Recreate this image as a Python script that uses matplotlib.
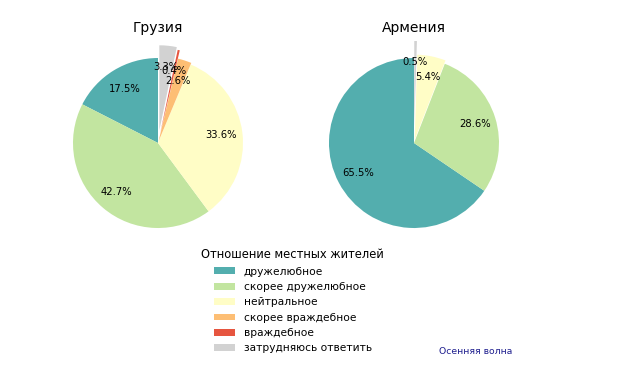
import matplotlib.pyplot as plt
from matplotlib.patches import Patch

categories = ['дружелюбное', 'скорее дружелюбное', 'нейтральное',
              'скорее враждебное', 'враждебное', 'затрудняюсь ответить']
georgia = [17.5, 42.7, 33.6, 2.6, 0.4, 3.3]
armenia = [65.5, 28.6, 5.4, 0.0, 0.0, 0.5]
colors = ['#53aeae', '#c2e5a0', '#fffdc6', '#fdbe74', '#e6553f', '#d2d2d2']

explode_ge = [0, 0, 0, 0.02, 0.12, 0.15]
explode_am = [0, 0, 0.04, 0, 0, 0.2]

W, H = 640, 366
fig = plt.figure(figsize=(6.4, 3.66), dpi=100)


def pct(v):
    return '' if v < 0.05 else '%1.1f%%' % v


def draw(cx, cy, r, values, explode, title):
    half = 1.25 * r
    ax = fig.add_axes([(cx - half) / W, (H - cy - half) / H, 2 * half / W, 2 * half / H])
    ax.pie(values, colors=colors, explode=explode, startangle=90,
           autopct=pct, pctdistance=0.75, textprops={'fontsize': 7.2})
    ax.set_xlim(-1.25, 1.25)
    ax.set_ylim(-1.25, 1.25)
    ax.set_aspect('equal')
    fig.text(cx / W, (H - 28) / H, title, ha='center', va='center', fontsize=10)


draw(158, 143, 85, georgia, explode_ge, 'Грузия')
draw(414, 143, 85, armenia, explode_am, 'Армения')

handles = [Patch(facecolor=c, edgecolor='none') for c in colors]
leg = fig.legend(handles, categories, title='Отношение местных жителей',
                 loc='upper left', bbox_to_anchor=(197 / W, (H - 244) / H),
                 frameon=False, fontsize=7.7, title_fontsize=8.3,
                 borderaxespad=0, labelspacing=0.5, handleheight=0.6)

fig.text(476 / W, (H - 352) / H, 'Осенняя волна', ha='center', va='center',
         fontsize=6.7, color='#1f1f8f')

fig.savefig('out.png', dpi=100)
